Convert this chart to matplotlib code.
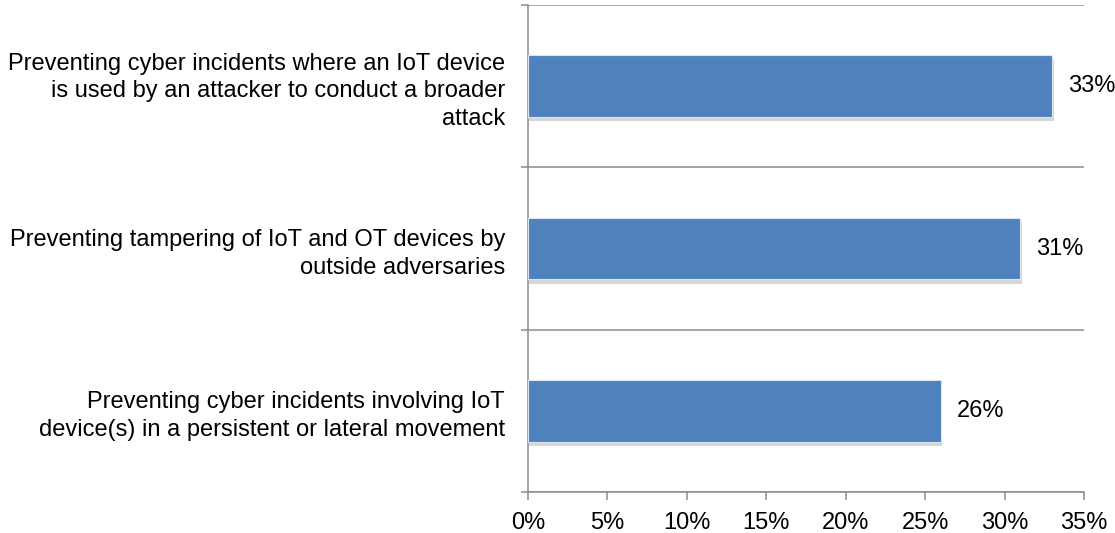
import matplotlib.pyplot as plt
import matplotlib.patheffects as pe
from matplotlib.ticker import FixedLocator, NullFormatter

plt.rcParams['font.family'] = ['Liberation Sans', 'DejaVu Sans']

# top to bottom
labels = [
    "Preventing cyber incidents where an IoT device\nis used by an attacker to conduct a broader\nattack",
    "Preventing tampering of IoT and OT devices by\noutside adversaries",
    "Preventing cyber incidents involving IoT\ndevice(s) in a persistent or lateral movement",
]
values = [33, 31, 26]
xticks = [0, 5, 10, 15, 20, 25, 30, 35]

BAR = '#4F81BD'
GRID = '#8C8C8C'
FS = 17

fig = plt.figure(figsize=(11.15, 5.33), dpi=100)
ax = fig.add_axes([528 / 1115, 1 - 492 / 533, (1084 - 528) / 1115, (492 - 5) / 533])

n = len(values)
ypos = [n - 0.5 - i for i in range(n)]

bars = ax.barh(ypos, values, height=0.38, color=BAR, edgecolor='#DCE6F2',
               linewidth=0.8, zorder=3)
for b in bars:
    b.set_path_effects([pe.SimplePatchShadow(offset=(1, -3), shadow_rgbFace='#999999',
                                             alpha=0.4), pe.Normal()])

for y, v in zip(ypos, values):
    ax.text(v + 1.0, y, f"{v}%", va='center', ha='left', fontsize=FS)

ax.set_xlim(0, 35)
ax.set_ylim(0, n)

ax.set_xticks(xticks)
ax.set_xticklabels([f"{t}%" for t in xticks], fontsize=FS)

# category boundaries carry the grid lines and ticks, labels sit in between
ax.yaxis.set_major_locator(FixedLocator(range(n + 1)))
ax.yaxis.set_major_formatter(NullFormatter())
ax.yaxis.set_minor_locator(FixedLocator(ypos))
ax.set_yticklabels(labels, minor=True, fontsize=FS, ha='right', linespacing=1.33)
ax.tick_params(axis='y', which='minor', length=0, pad=16.5)
ax.tick_params(axis='y', which='major', length=5, width=1.1, color=GRID)
ax.tick_params(axis='x', length=5.5, width=1.1, color=GRID, pad=9)

ax.grid(axis='y', which='major', color=GRID, linewidth=1.1, zorder=1)
ax.set_axisbelow(True)

for s in ['top', 'right']:
    ax.spines[s].set_visible(False)
for s in ['left', 'bottom']:
    ax.spines[s].set_color(GRID)
    ax.spines[s].set_linewidth(1.1)

fig.savefig('out.png', dpi=100)
